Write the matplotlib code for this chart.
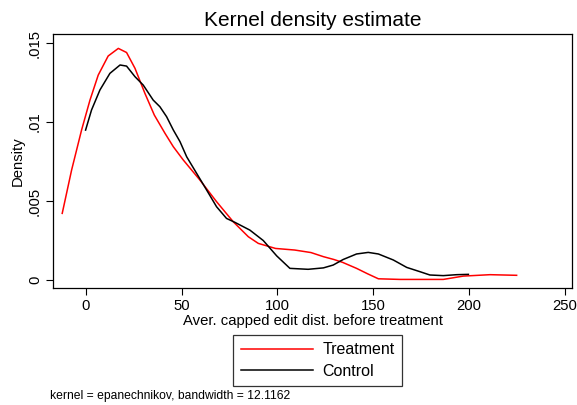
import matplotlib
matplotlib.use("Agg")
import matplotlib.pyplot as plt

plt.rcParams['font.family'] = ['Liberation Sans', 'DejaVu Sans']

# Treatment density
treat_x = [-12.4, -7.5, -2.3, 2.1, 6.4, 11.6, 16.9, 21.2, 25.6, 30.8, 35.7, 41.3,
           45.6, 50.8, 59.5, 68.2, 76.9, 84.8, 90.0, 99.0, 109.0, 117.5, 124.0,
           129.5, 134.0, 141.3, 147.0, 152.7, 164.0, 186.6, 197.0, 211.0, 224.9]
treat_y = [0.00422, 0.00696, 0.00949, 0.01139, 0.01297, 0.01418, 0.01466, 0.0144,
           0.0134, 0.01181, 0.01044, 0.00928, 0.00844, 0.0076, 0.00633, 0.00496,
           0.00369, 0.00274, 0.00232, 0.0020, 0.0019, 0.00174, 0.00148, 0.0013,
           0.00112, 0.00074, 0.00040, 0.00008, 0.00004, 0.00004, 0.00025, 0.00034,
           0.0003]

# Control density
ctrl_x = [-0.2, 2.9, 7.3, 12.5, 17.8, 21.2, 25.6, 29.9, 35.1, 38.6, 42.1,
          45.6, 49.1, 52.6, 57.8, 63.0, 68.2, 73.4, 77.8, 85.6, 92.6, 99.6, 106.5,
          116.0, 124.0, 129.1, 134.3, 141.3, 147.4, 152.7, 160.5, 167.5, 174.4,
          179.6, 186.6, 193.6, 199.7]
ctrl_y = [0.00949, 0.01076, 0.01203, 0.01308, 0.01361, 0.01354, 0.01287, 0.01234,
          0.01139, 0.01097, 0.01034, 0.0095, 0.00876, 0.0078, 0.00675,
          0.0057, 0.00464, 0.0039, 0.00365, 0.00316, 0.00250, 0.00153, 0.00074,
          0.00068, 0.00077, 0.00095, 0.0013, 0.00165, 0.00175, 0.00165, 0.00127,
          0.0008, 0.00053, 0.00032, 0.00028, 0.00034, 0.00036]

xticks = [0, 50, 100, 150, 200, 250]
yticks = [0, 0.005, 0.01, 0.015]
ytick_labels = ['0', '.005', '.01', '.015']

fig = plt.figure(figsize=(5.77, 4.05), dpi=100)
ax = fig.add_axes([0.0919, 0.289, 0.8994, 0.627])

ax.plot(treat_x, treat_y, color='red', lw=1.1, label='Treatment')
ax.plot(ctrl_x, ctrl_y, color='black', lw=1.1, label='Control')

ax.set_xlim(-17.2, 253.8)
ax.set_ylim(-0.0005, 0.01557)
ax.set_xticks(xticks)
ax.set_yticks(yticks)
ax.set_yticklabels(ytick_labels, rotation=90, va='center')
ax.tick_params(direction='out', length=5, width=0.8, labelsize=10.7, pad=3)
for s in ax.spines.values():
    s.set_linewidth(0.9)

ax.set_title('Kernel density estimate', fontsize=15, pad=6)
ax.set_xlabel('Aver. capped edit dist. before treatment', fontsize=10.7, labelpad=1)
ax.set_ylabel('Density', fontsize=10.7, labelpad=2)

leg = fig.legend(loc='upper center', bbox_to_anchor=(0.5503, 0.173), ncol=1,
                 fontsize=11.5, frameon=True, fancybox=False, edgecolor='black',
                 handlelength=4.5, borderpad=0.45, labelspacing=0.4, handletextpad=0.6,
                 borderaxespad=0)
leg.get_frame().set_linewidth(0.9)

fig.text(0.087, 0.015, 'kernel = epanechnikov, bandwidth = 12.1162', fontsize=8.7)

fig.savefig('out.png', dpi=100)
